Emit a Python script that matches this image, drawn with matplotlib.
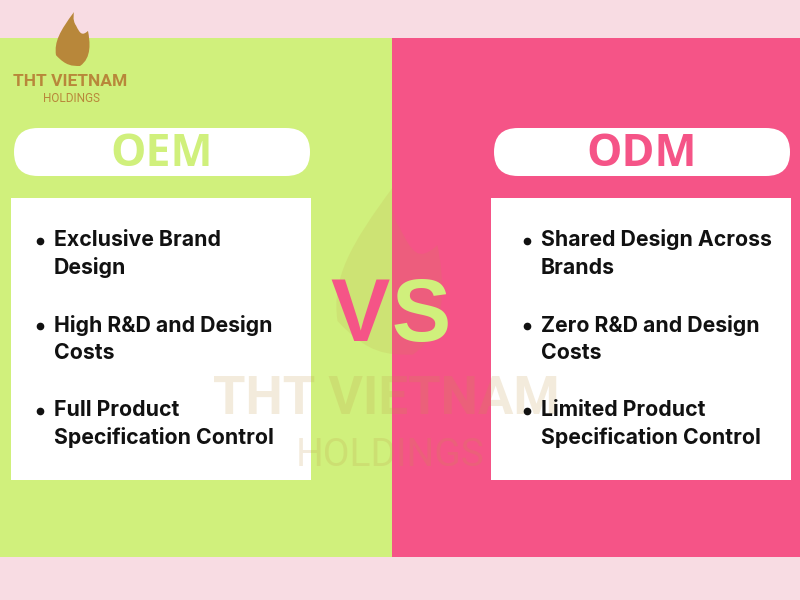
import matplotlib.pyplot as plt
from matplotlib.patches import FancyBboxPatch, Rectangle, PathPatch
from matplotlib.path import Path

# content
titles = ["OEM", "ODM"]
oem_items = [["Exclusive Brand", "Design"],
             ["High R&D and Design", "Costs"],
             ["Full Product", "Specification Control"]]
odm_items = [["Shared Design Across", "Brands"],
             ["Zero R&D and Design", "Costs"],
             ["Limited Product", "Specification Control"]]
brand = ["THT VIETNAM", "HOLDINGS"]

GREEN = "#D0F07C"
PINK = "#F55487"
BG = "#F8DCE3"
GOLD = "#B8873A"
WM = "#C09647"

fig = plt.figure(figsize=(8, 6), dpi=100)
fig.patch.set_facecolor(BG)
ax = fig.add_axes([0, 0, 1, 1])
ax.set_xlim(0, 800)
ax.set_ylim(600, 0)
ax.axis("off")

ax.add_patch(Rectangle((0, 38), 392, 519, color=GREEN, lw=0))
ax.add_patch(Rectangle((392, 38), 408, 519, color=PINK, lw=0))


def flame(x0, y0, s, color, alpha, z):
    # rough flame outline, unit box 0..1 wide, 0..1 high (y downwards)
    verts = [(0.55, 0.0), (0.2, 0.35), (0.05, 0.55), (0.1, 0.8),
             (0.35, 1.0), (0.5, 1.0), (0.7, 1.0), (1.0, 0.85),
             (0.95, 0.55), (0.9, 0.35), (0.75, 0.45), (0.7, 0.4),
             (0.6, 0.25), (0.5, 0.15), (0.55, 0.0), (0.55, 0.0)]
    codes = [Path.MOVETO] + [Path.CURVE4] * 15
    verts = [(x0 + vx * s, y0 + vy * s * 1.35) for vx, vy in verts]
    ax.add_patch(PathPatch(Path(verts, codes), color=color, alpha=alpha,
                           lw=0, zorder=z))


# logo top-left
flame(52, 12, 40, GOLD, 1.0, 3)
ax.text(70, 82, brand[0], ha="center", va="center", fontsize=12.5,
        fontweight="bold", color=GOLD, family="Roboto")
ax.text(72, 98, brand[1], ha="center", va="center", fontsize=8.5,
        color=GOLD, family="Roboto")

# header pills
pill_x = [14, 494]
title_col = [GREEN, PINK]
for px, t, c in zip(pill_x, titles, title_col):
    ax.add_patch(FancyBboxPatch((px, 128), 296, 48,
                                boxstyle="round,pad=0,rounding_size=24",
                                fc="white", ec="none", zorder=2))
    ax.text(px + 148, 154, t, ha="center", va="center", fontsize=32,
            fontweight="bold", color=c, family="Open Sans", zorder=3)

# white content boxes
box_x = [11, 491]
for bx in box_x:
    ax.add_patch(Rectangle((bx, 198), 300, 282, color="white", lw=0, zorder=2))

# watermark
flame(325, 186, 125, WM, 0.14, 4)
ax.text(386, 399, brand[0], ha="center", va="center", fontsize=38,
        fontweight="bold", color=WM, alpha=0.19, family="Roboto", zorder=4)
ax.text(390, 455, brand[1], ha="center", va="center", fontsize=28,
        color=WM, alpha=0.19, family="Roboto", zorder=4)

# bullet lists
row_y = [240, 325, 410]
for bx, items in zip([40, 527], [oem_items, odm_items]):
    for y, lines in zip(row_y, items):
        ax.plot(bx, y + 1, "o", ms=4.5, color="#111111", zorder=5)
        for k, line in enumerate(lines):
            ax.text(bx + 14, y + 28 * k, line, ha="left", va="center",
                    fontsize=15.3, fontweight="bold", color="#111111",
                    family="Inter", zorder=5)

# VS
ax.text(360, 318, "V", ha="center", va="center", fontsize=64,
        fontweight="bold", color=PINK, family="Liberation Sans", zorder=6)
ax.text(421, 318, "S", ha="center", va="center", fontsize=64,
        fontweight="bold", color=GREEN, family="Liberation Sans", zorder=6)

fig.savefig("out.png", dpi=100, facecolor=BG)
